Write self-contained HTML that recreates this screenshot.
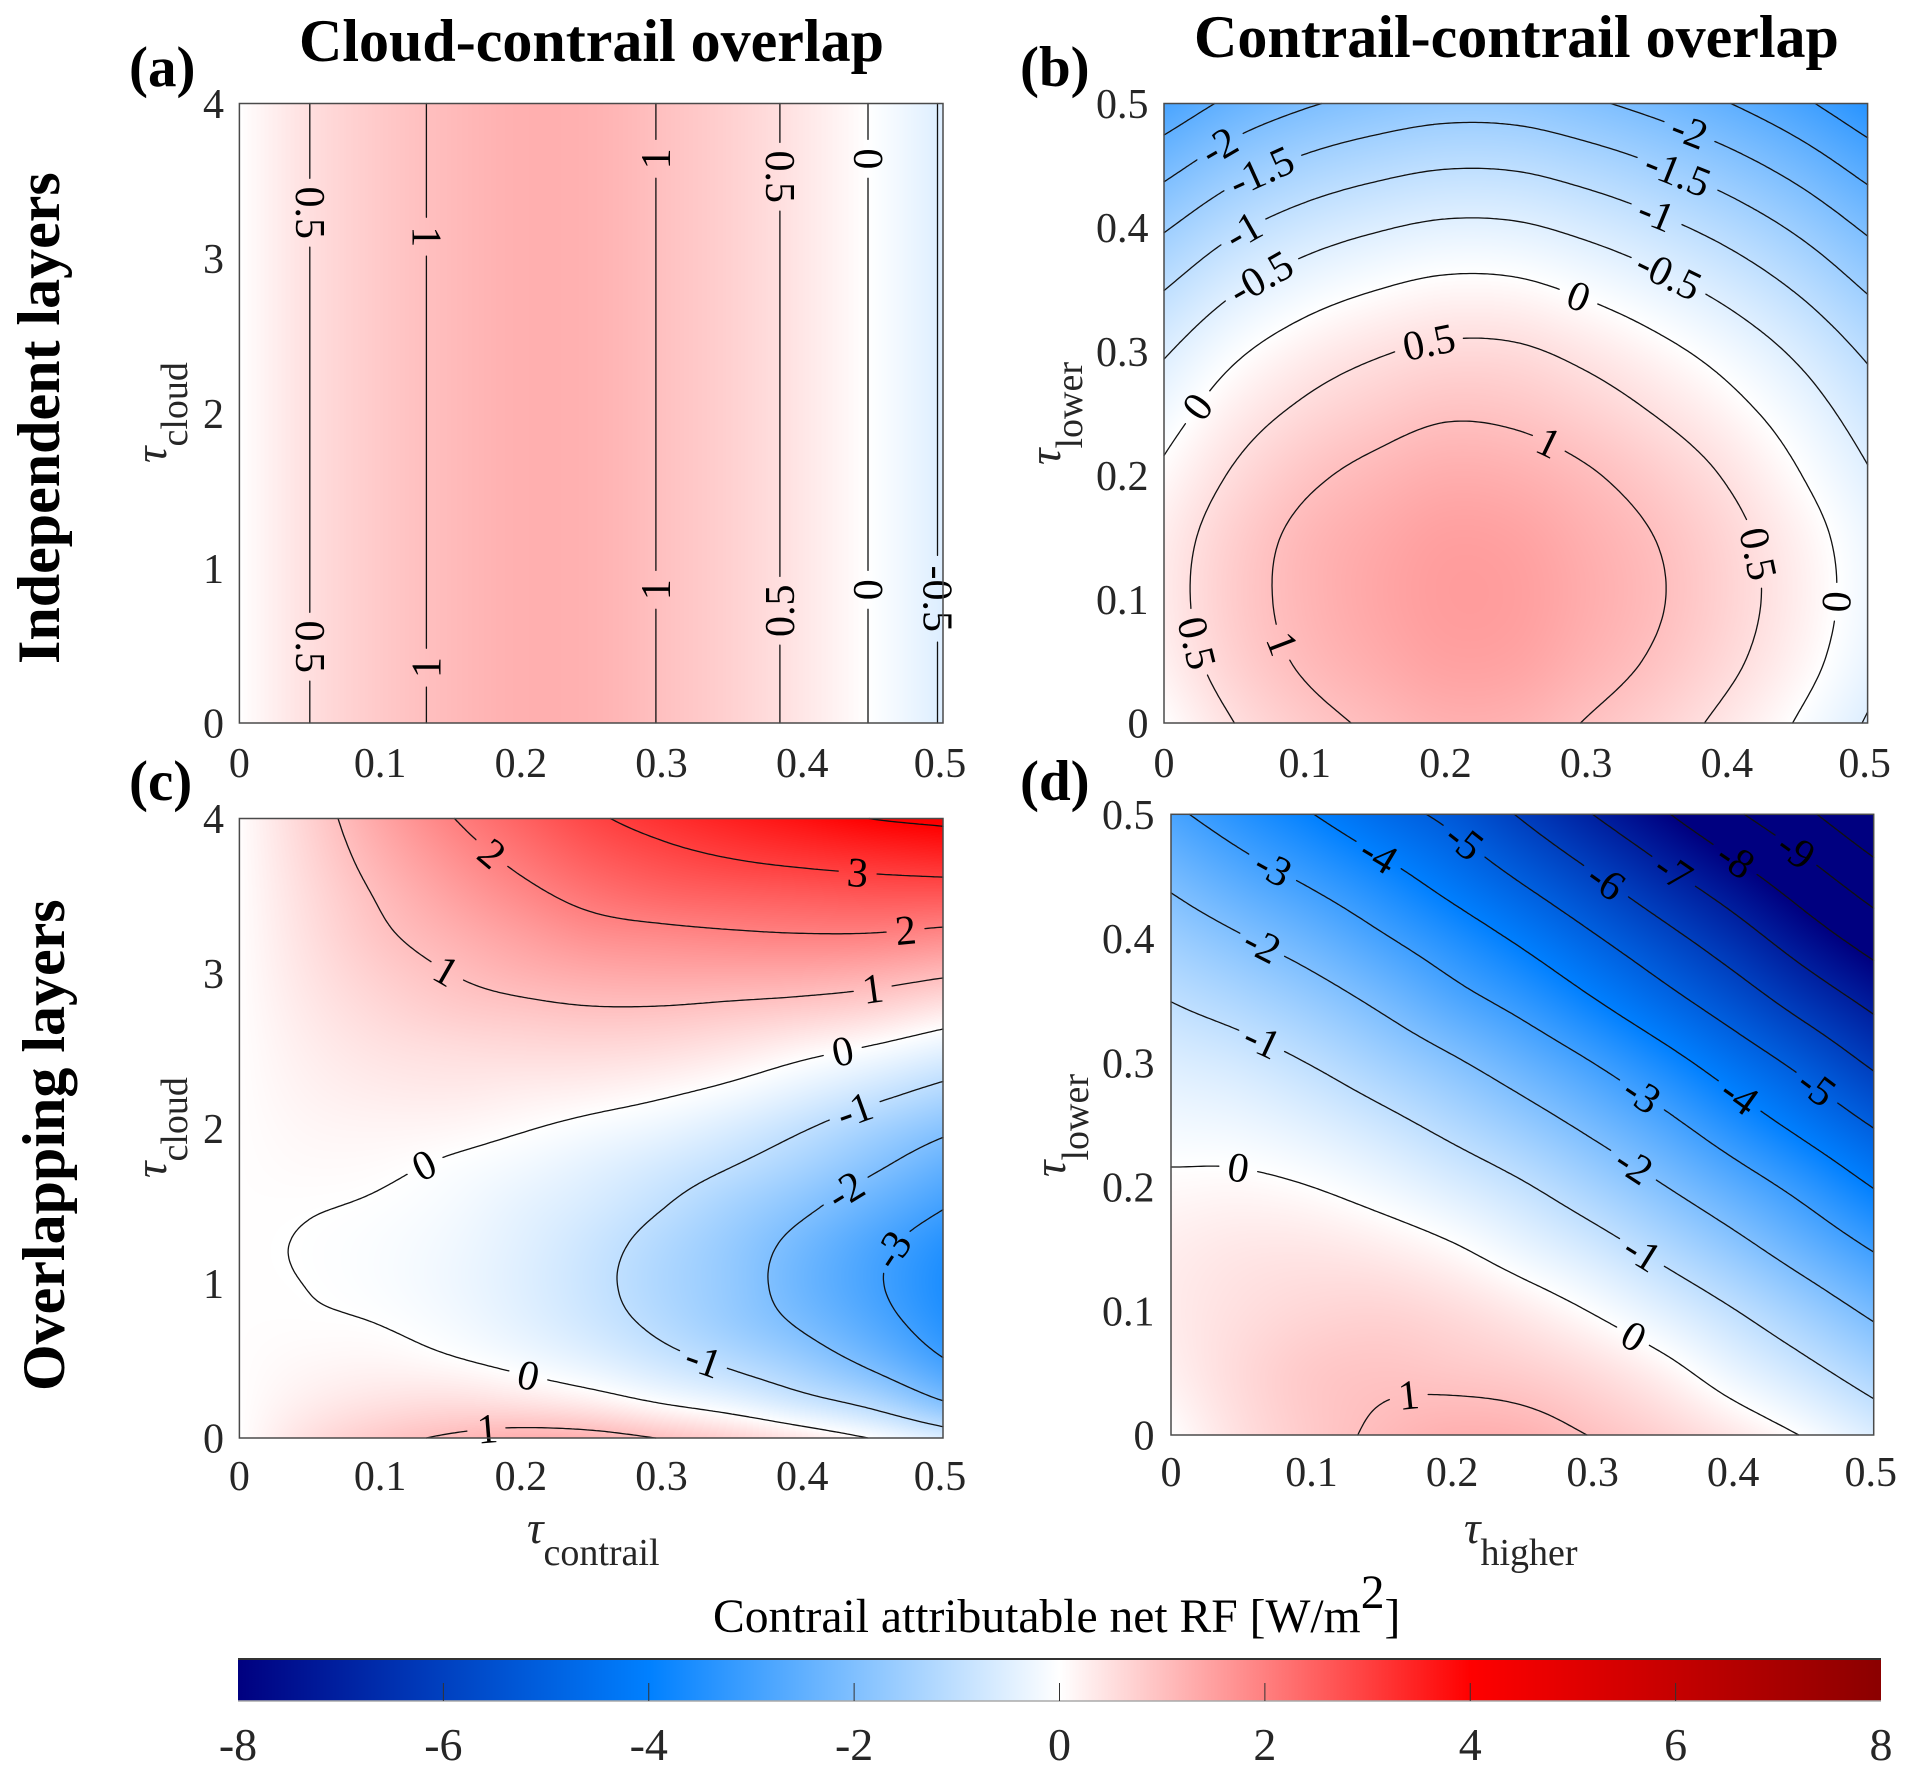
<!DOCTYPE html>
<html lang="en">
<head>
<meta charset="utf-8">
<title>Contrail attributable net RF</title>
<style>
html,body{margin:0;padding:0;background:#fff;}
#figure{position:relative;width:1913px;height:1777px;overflow:hidden;background:#fff;font-family:"Liberation Serif",serif;}
canvas{position:absolute;display:block;}
svg{position:absolute;left:0;top:0;}
text{font-family:"Liberation Serif",serif;}
.title{font-size:60px;font-weight:bold;fill:#000;}
.tag{font-size:57px;font-weight:bold;fill:#000;}
.axlabel{font-size:38px;fill:#262626;}
.axlabel .tau{font-size:46px;font-style:italic;}
.tick{font-size:42px;fill:#262626;}
.cbtick{font-size:46px;fill:#262626;}
.clabel{font-size:42px;fill:#000;}
</style>
</head>
<body>
<div id="figure">
<canvas id="heat-a"></canvas>
<canvas id="heat-b"></canvas>
<canvas id="heat-c"></canvas>
<canvas id="heat-d"></canvas>
<svg id="overlay" width="1913" height="1777" viewBox="0 0 1913 1777">
  <defs><linearGradient id="cb-grad" x1="0" x2="1" y1="0" y2="0"></linearGradient></defs>
  <text class="title" x="299" y="61">Cloud-contrail overlap</text>
  <text class="title" x="1194" y="57">Contrail-contrail overlap</text>
  <text class="title" transform="translate(59,664) rotate(-90)">Independent layers</text>
  <text class="title" transform="translate(64,1391) rotate(-90)">Overlapping layers</text>
  <text class="tag" x="129" y="86">(a)</text>
  <text class="tag" x="1020" y="86">(b)</text>
  <text class="tag" x="129" y="800">(c)</text>
  <text class="tag" x="1020" y="800">(d)</text>

  <text class="axlabel" transform="translate(166,463) rotate(-90)"><tspan class="tau">τ</tspan><tspan dy="21">cloud</tspan></text>
  <text class="axlabel" transform="translate(1060,465) rotate(-90)"><tspan class="tau">τ</tspan><tspan dy="22">lower</tspan></text>
  <text class="axlabel" transform="translate(166,1178) rotate(-90)"><tspan class="tau">τ</tspan><tspan dy="21">cloud</tspan></text>
  <text class="axlabel" transform="translate(1065,1177) rotate(-90)"><tspan class="tau">τ</tspan><tspan dy="23">lower</tspan></text>
  <text class="axlabel" x="527" y="1543"><tspan class="tau">τ</tspan><tspan dy="22">contrail</tspan></text>
  <text class="axlabel" x="1464" y="1543"><tspan class="tau">τ</tspan><tspan dy="22">higher</tspan></text>

  <text x="713" y="1632" font-size="47.6" fill="#000">Contrail attributable net RF [W/m<tspan dy="-24">2</tspan><tspan dy="24">]</tspan></text>
  <rect id="cb-rect" x="238" y="1659" width="1643" height="42" fill="url(#cb-grad)"></rect>
  <line x1="238" x2="1881" y1="1659" y2="1659" stroke="#333" stroke-width="2"></line>
  <line x1="238" x2="1881" y1="1701" y2="1701" stroke="#aaa" stroke-width="1.5"></line>
</svg>
</div>
<script>
// ---------- shared axis ticks ----------
const opticalDepthTicks = [0, 0.1, 0.2, 0.3, 0.4, 0.5];
const cloudDepthTicks = [0, 1, 2, 3, 4];
const colorbarTicks = [-8, -6, -4, -2, 0, 2, 4, 6, 8];

// ---------- colormap ----------
const colormapStops = [-8, -4, 0, 4, 8];
const colormapRed = [0, 0, 255, 255, 139];
const colormapGreen = [0, 128, 255, 0, 0];
const colormapBlue = [128, 255, 255, 0, 0];

// ---------- shared grid coordinates ----------
const tauGrid = [0, 0.05, 0.1, 0.15, 0.2, 0.25, 0.3, 0.35, 0.4, 0.45, 0.5];
const cloudGridTwo = [0, 4];
const cloudGrid = [0, 0.25, 0.5, 0.75, 1, 1.25, 1.5, 1.75, 2, 2.25, 2.5, 2.75, 3, 3.25, 3.5, 3.75, 4];

// ---------- panel (a) net RF by tau_contrail (rows = tau_cloud) ----------
const panelAValues = [
  [0, 0.5, 0.84, 1.07, 1.24, 1.21, 0.98, 0.72, 0.385, -0.03, -0.54],
  [0, 0.5, 0.84, 1.07, 1.24, 1.21, 0.98, 0.72, 0.385, -0.03, -0.54]
];
const panelALevels = [-0.5, 0, 0.5, 1];
const panelALabels = [
  [0.5, 0.05, 3.29, 0], [0.5, 0.05, 0.49, 0], [1, 0.133, 3.14, 0], [1, 0.133, 0.35, 1],
  [1, 0.294, 3.65, 1], [1, 0.294, 0.86, 1], [0.5, 0.386, 3.53, 0], [0.5, 0.386, 0.72, 1],
  [0, 0.447, 3.65, 1], [0, 0.447, 0.86, 1], [-0.5, 0.4965, 0.8, 0]
];

// ---------- panel (b) ----------
const panelBValues = [
  [0, 0.5, 0.84, 1.07, 1.24, 1.21, 0.98, 0.72, 0.385, -0.03, -0.54],
  [0.22, 0.72, 1.06, 1.29, 1.46, 1.43, 1.2, 0.94, 0.6, 0.19, -0.32],
  [0.31, 0.8, 1.14, 1.38, 1.54, 1.51, 1.29, 1.04, 0.69, 0.28, -0.23],
  [0.27, 0.75, 1.11, 1.33, 1.49, 1.45, 1.24, 0.99, 0.65, 0.23, -0.27],
  [0.08, 0.55, 0.9, 1.12, 1.27, 1.23, 1.05, 0.79, 0.46, 0.03, -0.46],
  [-0.2, 0.27, 0.59, 0.8, 0.95, 0.91, 0.73, 0.48, 0.17, -0.23, -0.73],
  [-0.55, -0.08, 0.24, 0.45, 0.58, 0.56, 0.38, 0.13, -0.18, -0.58, -1.08],
  [-1.01, -0.54, -0.22, -0.01, 0.12, 0.1, -0.08, -0.33, -0.64, -1.04, -1.54],
  [-1.55, -1.08, -0.76, -0.55, -0.42, -0.44, -0.62, -0.87, -1.18, -1.58, -2.08],
  [-2.17, -1.7, -1.38, -1.17, -1.04, -1.06, -1.24, -1.49, -1.8, -2.2, -2.7],
  [-2.85, -2.38, -2.06, -1.85, -1.72, -1.74, -1.92, -2.17, -2.48, -2.88, -3.38]
];
const panelBLevels = [-3, -2.5, -2, -1.5, -1, -0.5, 0, 0.5, 1];
const panelBLabels = [
  [-2, 0.0385, 0.465, 0], [-1.5, 0.0687, 0.445, 0], [-1, 0.0557, 0.399, 0], [-0.5, 0.0687, 0.361, 0],
  [0, 0.021, 0.258, 0], [0.5, 0.1875, 0.308, 0], [1, 0.276, 0.23, 0], [0, 0.2956, 0.349, 0],
  [-0.5, 0.36, 0.3626, 0], [-1, 0.35, 0.413, 0], [-1.5, 0.365, 0.443, 0], [-2, 0.373, 0.477, 0],
  [0.5, 0.419, 0.136, 0], [0, 0.476, 0.0976, 0], [1, 0.0838, 0.0635, 0], [0.5, 0.0255, 0.0655, 0]
];

// ---------- panel (c) ----------
const panelCValues = [
  [0, 0.5, 0.84, 1.07, 1.24, 1.21, 0.98, 0.72, 0.385, -0.03, -0.54],
  [0.01, 0.26, 0.42, 0.48, 0.38, 0.2, -0.1, -0.4, -0.83, -1.3, -2.05],
  [0.02, 0.11, 0.14, 0.04, -0.15, -0.42, -0.78, -1.15, -1.6, -2.2, -2.95],
  [0.02, 0.025, -0.01, -0.16, -0.42, -0.75, -1.15, -1.6, -2.1, -2.7, -3.4],
  [0.02, -0.005, -0.08, -0.24, -0.5, -0.85, -1.27, -1.7, -2.3, -2.9, -3.55],
  [0.02, -0.012, -0.08, -0.22, -0.47, -0.8, -1.2, -1.65, -2.2, -2.8, -3.4],
  [0.02, 0.012, -0.03, -0.15, -0.38, -0.63, -0.97, -1.4, -1.85, -2.4, -2.95],
  [0.02, 0.07, 0.05, -0.05, -0.2, -0.42, -0.68, -1, -1.4, -1.9, -2.45],
  [0.02, 0.13, 0.16, 0.13, 0.03, -0.12, -0.3, -0.58, -0.95, -1.4, -1.85],
  [0.02, 0.2, 0.3, 0.33, 0.28, 0.22, 0.1, -0.1, -0.4, -0.75, -1.15],
  [0.02, 0.27, 0.44, 0.52, 0.56, 0.57, 0.51, 0.36, 0.14, -0.1, -0.42],
  [0.02, 0.35, 0.6, 0.78, 0.87, 0.94, 0.93, 0.85, 0.75, 0.6, 0.33],
  [0.02, 0.43, 0.76, 1, 1.2, 1.33, 1.38, 1.38, 1.36, 1.27, 1.09],
  [0.02, 0.5, 0.92, 1.22, 1.5, 1.75, 1.85, 1.93, 1.98, 1.97, 1.85],
  [0.02, 0.56, 1.05, 1.46, 1.83, 2.17, 2.38, 2.48, 2.55, 2.62, 2.62],
  [0.02, 0.64, 1.22, 1.71, 2.15, 2.55, 2.82, 3.02, 3.17, 3.29, 3.4],
  [0.02, 0.72, 1.4, 1.97, 2.45, 2.9, 3.23, 3.5, 3.75, 4.01, 4.15]
];
const panelCLevels = [-3, -2, -1, 0, 1, 2, 3, 4];
const panelCLabels = [
  [2, 0.178, 3.757, 0], [3, 0.439, 3.645, 0], [2, 0.473, 3.274, 0], [1, 0.1466, 2.998, 0],
  [1, 0.45, 2.913, 0], [0, 0.428, 2.508, 0], [-1, 0.437, 2.143, 0], [0, 0.132, 1.755, 0],
  [-2, 0.43, 1.603, 0], [-3, 0.473, 1.165, 0], [0, 0.206, 0.405, 0], [-1, 0.329, 0.473, 0],
  [1, 0.176, 0.034, 0]
];

// ---------- panel (d) ----------
const panelDValues = [
  [0, 0.5, 0.84, 1.07, 1.24, 1.21, 0.98, 0.72, 0.385, -0.03, -0.54],
  [0.22, 0.58, 0.84, 0.92, 0.87, 0.77, 0.55, 0.2, -0.3, -0.78, -1.33],
  [0.31, 0.5, 0.63, 0.67, 0.55, 0.31, -0.03, -0.47, -0.97, -1.53, -2.15],
  [0.27, 0.37, 0.38, 0.28, 0.06, -0.3, -0.7, -1.2, -1.75, -2.38, -3.05],
  [0.08, 0.1, 0, -0.23, -0.55, -0.93, -1.42, -1.97, -2.58, -3.25, -4.03],
  [-0.2, -0.27, -0.48, -0.8, -1.2, -1.65, -2.18, -2.78, -3.5, -4.25, -5.06],
  [-0.55, -0.72, -1.03, -1.45, -1.9, -2.42, -3, -3.68, -4.45, -5.25, -6.15],
  [-1.01, -1.3, -1.67, -2.15, -2.72, -3.27, -3.95, -4.7, -5.5, -6.38, -7.25],
  [-1.55, -1.95, -2.38, -2.92, -3.5, -4.15, -4.9, -5.7, -6.55, -7.5, -8.42],
  [-2.17, -2.68, -3.16, -3.72, -4.38, -5.12, -5.92, -6.78, -7.65, -8.6, -9.62],
  [-2.85, -3.42, -3.98, -4.63, -5.24, -6.1, -7, -7.9, -8.85, -9.8, -10.88]
];
const panelDLevels = [-10, -9, -8, -7, -6, -5, -4, -3, -2, -1, 0, 1];
const panelDLabels = [
  [-3, 0.0735, 0.4587, 0], [-4, 0.146, 0.465, 0], [-5, 0.2054, 0.4743, 0], [-6, 0.308, 0.444, 0],
  [-7, 0.358, 0.4553, 0], [-8, 0.401, 0.462, 0], [-9, 0.443, 0.469, 0], [-2, 0.065, 0.394, 0],
  [-1, 0.065, 0.3155, 0], [0, 0.0476, 0.2144, 0], [-3, 0.3335, 0.2725, 0], [-4, 0.4035, 0.2725, 0],
  [-5, 0.459, 0.2797, 0], [-2, 0.329, 0.2165, 0], [-1, 0.3365, 0.149, 0], [0, 0.328, 0.0783, 0],
  [1, 0.1687, 0.028, 0]
];

// ---------- panel layout ----------
const panels = [
  {key:'a', left:239.4, right:943, top:103.5, bottom:723, xs:tauGrid, ys:cloudGridTwo, z:panelAValues, levels:panelALevels, labels:panelALabels, yTicks:cloudDepthTicks, yMax:4, xTickY:777, yTickX:224},
  {key:'b', left:1164, right:1867.6, top:103.5, bottom:723, xs:tauGrid, ys:tauGrid, z:panelBValues, levels:panelBLevels, labels:panelBLabels, yTicks:opticalDepthTicks, yMax:0.5, xTickY:777, yTickX:1148.5},
  {key:'c', left:239.4, right:943, top:818.5, bottom:1438, xs:tauGrid, ys:cloudGrid, z:panelCValues, levels:panelCLevels, labels:panelCLabels, yTicks:cloudDepthTicks, yMax:4, xTickY:1490, yTickX:224},
  {key:'d', left:1171, right:1873.7, top:814.3, bottom:1435, xs:tauGrid, ys:tauGrid, z:panelDValues, levels:panelDLevels, labels:panelDLabels, yTicks:opticalDepthTicks, yMax:0.5, xTickY:1486, yTickX:1154.5}
];

const NS = 'http://www.w3.org/2000/svg';
const svg = document.getElementById('overlay');

function colormap(v) {
  const s = colormapStops;
  if (v <= s[0]) return [colormapRed[0], colormapGreen[0], colormapBlue[0]];
  const n = s.length - 1;
  if (v >= s[n]) return [colormapRed[n], colormapGreen[n], colormapBlue[n]];
  let i = 0;
  while (v > s[i + 1]) i++;
  const t = (v - s[i]) / (s[i + 1] - s[i]);
  return [
    colormapRed[i] + t * (colormapRed[i + 1] - colormapRed[i]),
    colormapGreen[i] + t * (colormapGreen[i + 1] - colormapGreen[i]),
    colormapBlue[i] + t * (colormapBlue[i + 1] - colormapBlue[i])
  ];
}

function cubic(p0, p1, p2, p3, t) {
  return p1 + 0.5 * t * (p2 - p0 + t * (2 * p0 - 5 * p1 + 4 * p2 - p3 + t * (3 * (p1 - p2) + p3 - p0)));
}

function makeSampler(p) {
  const nx = p.xs.length, ny = p.ys.length;
  const x0 = p.xs[0], dx = p.xs[1] - p.xs[0];
  const y0 = p.ys[0], dy = p.ys[1] - p.ys[0];
  // grid including one ghost row/column on each side (linear extrapolation)
  const g = [];
  for (let j = -1; j <= ny; j++) {
    const row = [];
    const jj = Math.min(ny - 1, Math.max(0, j));
    const base = p.z[jj];
    let src = base;
    if (j < 0) src = base.map((v, i) => 2 * v - p.z[1][i]);
    if (j >= ny) src = base.map((v, i) => 2 * v - p.z[ny - 2][i]);
    row.push(2 * src[0] - src[1]);
    for (let i = 0; i < nx; i++) row.push(src[i]);
    row.push(2 * src[nx - 1] - src[nx - 2]);
    g.push(row);
  }
  return function (x, y) {
    const u = (x - x0) / dx, v = (y - y0) / dy;
    const i = Math.min(nx - 2, Math.max(0, Math.floor(u)));
    const j = Math.min(ny - 2, Math.max(0, Math.floor(v)));
    const t = u - i, s = v - j;
    const rowVal = r => cubic(g[r][i], g[r][i + 1], g[r][i + 2], g[r][i + 3], t);
    return cubic(rowVal(j), rowVal(j + 1), rowVal(j + 2), rowVal(j + 3), s);
  };
}

function labelWidth(text) {
  let w = 0;
  for (const c of text) w += c === '-' ? 14 : c === '.' ? 10.5 : 21;
  return w;
}

panels.forEach(function (p) {
  const xMax = p.xs[p.xs.length - 1];
  const xScale = v => p.left + (v / xMax) * (p.right - p.left);
  const yScale = v => p.bottom - (v / p.yMax) * (p.bottom - p.top);
  const xInv = px => (px - p.left) / (p.right - p.left) * xMax;
  const yInv = py => (p.bottom - py) / (p.bottom - p.top) * p.yMax;
  const field = makeSampler(p);

  // heatmap
  const cv = document.getElementById('heat-' + p.key);
  const cl = Math.round(p.left), ct = Math.round(p.top);
  const cw = Math.round(p.right) - cl, ch = Math.round(p.bottom) - ct;
  cv.width = cw; cv.height = ch;
  cv.style.left = cl + 'px'; cv.style.top = ct + 'px';
  const ctx = cv.getContext('2d');
  const img = ctx.createImageData(cw, ch);
  for (let py = 0; py < ch; py++) {
    const dy = yInv(ct + py + 0.5);
    for (let px = 0; px < cw; px++) {
      const c = colormap(field(xInv(cl + px + 0.5), dy));
      const o = (py * cw + px) * 4;
      img.data[o] = c[0]; img.data[o + 1] = c[1]; img.data[o + 2] = c[2]; img.data[o + 3] = 255;
    }
  }
  ctx.putImageData(img, 0, 0);

  // contour sampling in pixel space
  const step = 3;
  const nc = Math.ceil((p.right - p.left) / step), nr = Math.ceil((p.bottom - p.top) / step);
  const sx = (p.right - p.left) / nc, sy = (p.bottom - p.top) / nr;
  const vals = [];
  for (let r = 0; r <= nr; r++) {
    const row = [];
    for (let c = 0; c <= nc; c++) row.push(field(xInv(p.left + c * sx), yInv(p.top + r * sy)));
    vals.push(row);
  }

  p.levels.forEach(function (level) {
    const segs = [];
    for (let r = 0; r < nr; r++) {
      for (let c = 0; c < nc; c++) {
        const a = vals[r][c], b = vals[r][c + 1], d = vals[r + 1][c + 1], e = vals[r + 1][c];
        const pts = [];
        const X = p.left + c * sx, Y = p.top + r * sy;
        if ((a - level) * (b - level) < 0) pts.push([X + sx * (level - a) / (b - a), Y]);
        if ((b - level) * (d - level) < 0) pts.push([X + sx, Y + sy * (level - b) / (d - b)]);
        if ((e - level) * (d - level) < 0) pts.push([X + sx * (level - e) / (d - e), Y + sy]);
        if ((a - level) * (e - level) < 0) pts.push([X, Y + sy * (level - a) / (e - a)]);
        if (pts.length >= 2) segs.push([pts[0], pts[1]]);
        if (pts.length === 4) segs.push([pts[2], pts[3]]);
      }
    }
    // labels on this level: snap the hint to the nearest contour point
    const placed = [];
    p.labels.filter(l => l[0] === level).forEach(function (l) {
      const hx = xScale(l[1]), hy = yScale(l[2]);
      let best = null, bd = Infinity;
      segs.forEach(function (s) {
        const mx = (s[0][0] + s[1][0]) / 2, my = (s[0][1] + s[1][1]) / 2;
        const dd = (mx - hx) * (mx - hx) + (my - hy) * (my - hy);
        if (dd < bd) { bd = dd; best = [mx, my]; }
      });
      if (!best) return;
      const e = 3;
      const gx = field(xInv(best[0] + e), yInv(best[1])) - field(xInv(best[0] - e), yInv(best[1]));
      const gy = field(xInv(best[0]), yInv(best[1] + e)) - field(xInv(best[0]), yInv(best[1] - e));
      let ang = Math.atan2(gx, -gy) * 180 / Math.PI;
      if (ang > 90) ang -= 180;
      if (ang <= -90) ang += 180;
      if (Math.abs(Math.abs(ang) - 90) < 1) ang = 90;
      if (l[3]) ang += 180;
      placed.push({x: best[0], y: best[1], ang: ang, text: String(level), r: labelWidth(String(level)) / 2 + 9});
    });
    // contour path with gaps at the labels
    let d = '';
    segs.forEach(function (s) {
      const mx = (s[0][0] + s[1][0]) / 2, my = (s[0][1] + s[1][1]) / 2;
      for (const q of placed) {
        if (Math.hypot(mx - q.x, my - q.y) < q.r) return;
      }
      d += 'M' + s[0][0].toFixed(1) + ' ' + s[0][1].toFixed(1) + 'L' + s[1][0].toFixed(1) + ' ' + s[1][1].toFixed(1);
    });
    const path = document.createElementNS(NS, 'path');
    
    
    path.setAttribute('d', d);
    path.setAttribute('fill', 'none');
    path.setAttribute('stroke', '#111');
    path.setAttribute('stroke-width', '1.3');
    path.setAttribute('stroke-linecap', 'round');
    svg.appendChild(path);

    placed.forEach(function (q) {
      const t = document.createElementNS(NS, 'text');
      
      
      t.setAttribute('class', 'clabel');
      t.setAttribute('x', q.x.toFixed(1));
      t.setAttribute('y', q.y.toFixed(1));
      t.setAttribute('dy', '0.33em');
      t.setAttribute('text-anchor', 'middle');
      t.setAttribute('transform', 'rotate(' + q.ang.toFixed(1) + ' ' + q.x.toFixed(1) + ' ' + q.y.toFixed(1) + ')');
      t.textContent = q.text;
      svg.appendChild(t);
    });
  });

  // axes box
  const box = document.createElementNS(NS, 'rect');
  
  
  box.setAttribute('x', p.left);
  box.setAttribute('y', p.top);
  box.setAttribute('width', p.right - p.left);
  box.setAttribute('height', p.bottom - p.top);
  box.setAttribute('fill', 'none');
  box.setAttribute('stroke', '#4a4a4a');
  box.setAttribute('stroke-width', '1.5');
  svg.appendChild(box);

  // x tick labels
  opticalDepthTicks.forEach(function (v) {
    const t = document.createElementNS(NS, 'text');
    
    
    t.setAttribute('class', 'tick');
    t.setAttribute('x', xScale(v) - (v === 0.5 ? 3 : 0));
    t.setAttribute('y', p.xTickY);
    t.setAttribute('text-anchor', 'middle');
    t.textContent = String(v);
    svg.appendChild(t);
  });
  // y tick labels
  p.yTicks.forEach(function (v) {
    const t = document.createElementNS(NS, 'text');
    
    
    t.setAttribute('class', 'tick');
    t.setAttribute('x', p.yTickX);
    t.setAttribute('y', yScale(v));
    t.setAttribute('dy', '0.35em');
    t.setAttribute('text-anchor', 'end');
    t.textContent = String(v);
    svg.appendChild(t);
  });
});

// ---------- colorbar ----------
(function () {
  const cbLeft = 238, cbRight = 1881, cbTop = 1659, cbBottom = 1701, labelY = 1760, tickLen = 18;
  const lo = colormapStops[0], hi = colormapStops[colormapStops.length - 1];
  const cbScale = v => cbLeft + (v - lo) / (hi - lo) * (cbRight - cbLeft);
  const grad = document.getElementById('cb-grad');
  colormapStops.forEach(function (v, i) {
    const st = document.createElementNS(NS, 'stop');
    st.setAttribute('offset', ((v - lo) / (hi - lo) * 100) + '%');
    st.setAttribute('stop-color', 'rgb(' + colormapRed[i] + ',' + colormapGreen[i] + ',' + colormapBlue[i] + ')');
    grad.appendChild(st);
  });
  colorbarTicks.forEach(function (v) {
    if (v !== lo && v !== hi) {
      const tk = document.createElementNS(NS, 'line');
      
      
      tk.setAttribute('x1', cbScale(v));
      tk.setAttribute('x2', cbScale(v));
      tk.setAttribute('y1', cbBottom);
      tk.setAttribute('y2', cbBottom - tickLen);
      tk.setAttribute('stroke', '#333');
      tk.setAttribute('stroke-width', '1');
      svg.appendChild(tk);
    }
    const t = document.createElementNS(NS, 'text');
    
    
    t.setAttribute('class', 'cbtick');
    t.setAttribute('x', cbScale(v));
    t.setAttribute('y', labelY);
    t.setAttribute('text-anchor', 'middle');
    t.textContent = String(v);
    svg.appendChild(t);
  });
})();
</script>
</body>
</html>
